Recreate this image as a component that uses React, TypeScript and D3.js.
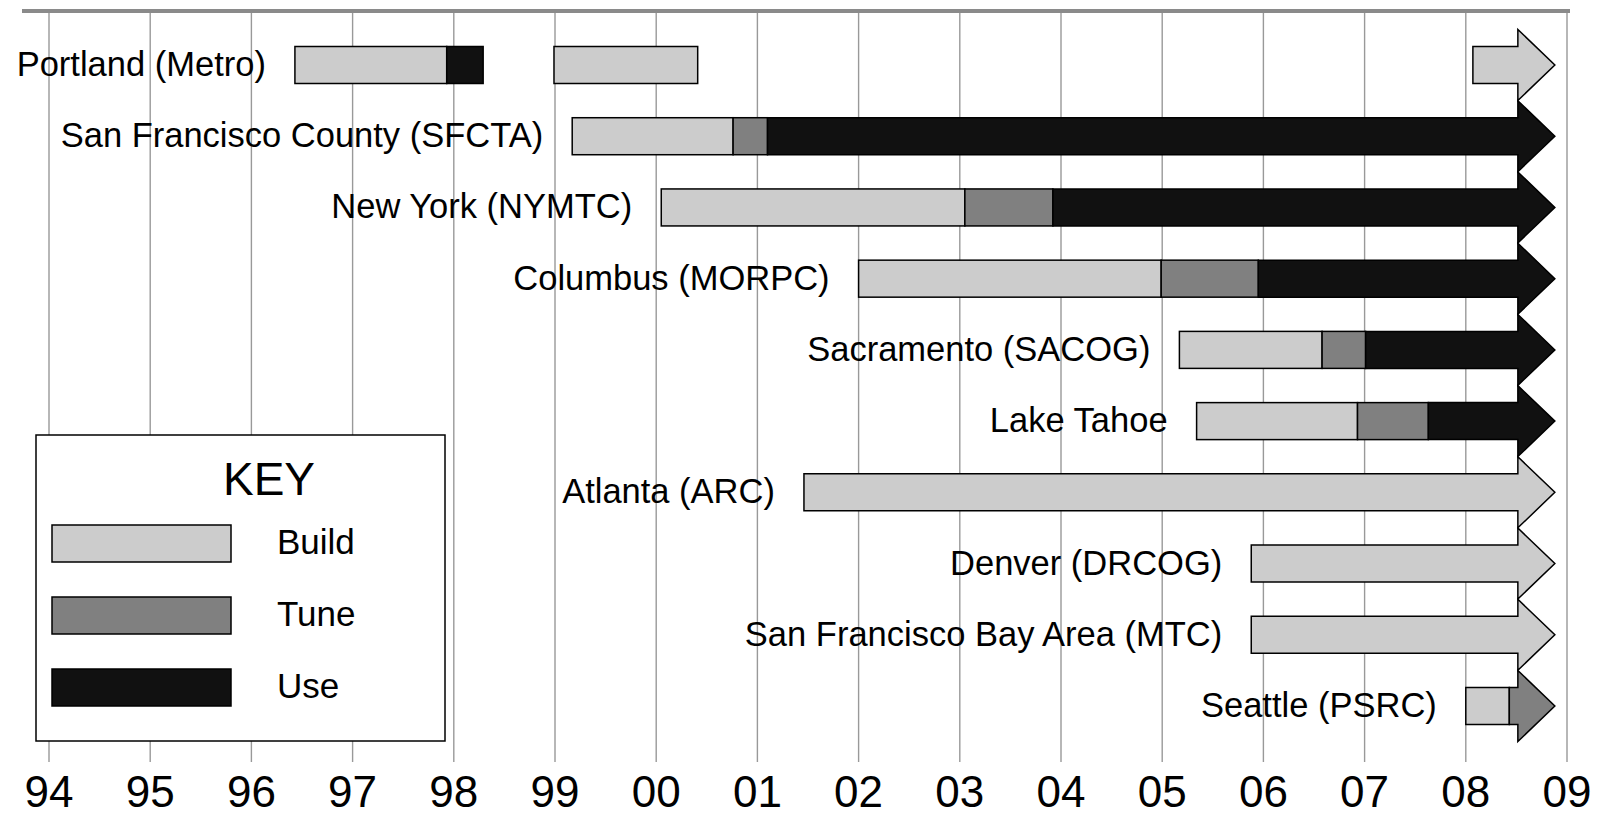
import * as d3 from "d3";

// rows, top to bottom
const agencies = [
  "Portland (Metro)",
  "San Francisco County (SFCTA)",
  "New York (NYMTC)",
  "Columbus (MORPC)",
  "Sacramento (SACOG)",
  "Lake Tahoe",
  "Atlanta (ARC)",
  "Denver (DRCOG)",
  "San Francisco Bay Area (MTC)",
  "Seattle (PSRC)",
];

const phases = ["Build", "Tune", "Use"];

// years as 94..109 (00 = 100); ONGOING marks a phase still running (drawn as arrow)
const ONGOING = 108.88;

// [agency index, phase, start, end]
const segments: [number, string, number, number][] = [
  [0, "Build", 96.43, 97.93],
  [0, "Use", 97.93, 98.29],
  [0, "Build", 98.99, 100.41],
  [0, "Build", 108.07, ONGOING],
  [1, "Build", 99.17, 100.76],
  [1, "Tune", 100.76, 101.1],
  [1, "Use", 101.1, ONGOING],
  [2, "Build", 100.05, 103.05],
  [2, "Tune", 103.05, 103.92],
  [2, "Use", 103.92, ONGOING],
  [3, "Build", 102.0, 104.99],
  [3, "Tune", 104.99, 105.95],
  [3, "Use", 105.95, ONGOING],
  [4, "Build", 105.17, 106.58],
  [4, "Tune", 106.58, 107.01],
  [4, "Use", 107.01, ONGOING],
  [5, "Build", 105.34, 106.93],
  [5, "Tune", 106.93, 107.63],
  [5, "Use", 107.63, ONGOING],
  [6, "Build", 101.46, ONGOING],
  [7, "Build", 105.88, ONGOING],
  [8, "Build", 105.88, ONGOING],
  [9, "Build", 108.0, 108.43],
  [9, "Tune", 108.43, ONGOING],
];

const years = d3.range(94, 110);
const yearLabels = years.map((y) => String(y % 100).padStart(2, "0"));

export default function App() {
  const width = 1598;
  const height = 817;
  const font = "'Liberation Sans', Arial, Helvetica, sans-serif";

  const x = d3.scaleLinear().domain([94, 109]).range([49, 1567]);
  const y = d3
    .scalePoint<number>()
    .domain(d3.range(agencies.length))
    .range([65, 706]);

  const color = d3
    .scaleOrdinal<string, string>()
    .domain(phases)
    .range(["#cccccc", "#808080", "#111111"]);

  const bodyH = 37;
  const headH = 71;
  const headLen = 37;
  const gridTop = 11;
  const gridBottom = 762;

  // first segment of each row, for the label position
  const rowStart = agencies.map((_, i) =>
    d3.min(segments.filter((s) => s[0] === i), (s) => s[2]) as number
  );

  const arrowPath = (x0: number, xt: number, c: number) => {
    const xb = xt - headLen;
    const h = bodyH / 2;
    const H = headH / 2;
    const p = d3.path();
    p.moveTo(x0, c - h);
    p.lineTo(xb, c - h);
    p.lineTo(xb, c - H);
    p.lineTo(xt, c);
    p.lineTo(xb, c + H);
    p.lineTo(xb, c + h);
    p.lineTo(x0, c + h);
    p.closePath();
    return p.toString();
  };

  return (
    <svg
      width={width}
      height={height}
      style={{ position: "absolute", left: 0, top: 0, background: "#fff" }}
      fontFamily={font}
    >
      {/* gridlines */}
      {years.map((yr) => (
        <line
          key={yr}
          x1={x(yr)}
          x2={x(yr)}
          y1={gridTop}
          y2={gridBottom}
          stroke="#999"
          strokeWidth={1.4}
        />
      ))}
      <line x1={22} x2={1570} y1={gridTop} y2={gridTop} stroke="#8a8a8a" strokeWidth={4} />

      {/* tick labels */}
      {years.map((yr, i) => (
        <text
          key={"t" + yr}
          x={x(yr)}
          y={807}
          textAnchor="middle"
          fontSize={44}
          fill="#000"
        >
          {yearLabels[i]}
        </text>
      ))}

      {/* row labels */}
      {agencies.map((name, i) => (
        <text
          key={name}
          x={x(rowStart[i]) - 29}
          y={(y(i) as number) + 11}
          textAnchor="end"
          fontSize={34.5}
          fill="#000"
        >
          {name}
        </text>
      ))}

      {/* bars */}
      {segments.map(([row, phase, s, e], k) => {
        const c = y(row) as number;
        if (e === ONGOING) {
          return (
            <path
              key={k}
              d={arrowPath(x(s), x(e), c)}
              fill={color(phase)}
              stroke="#000"
              strokeWidth={1.5}
              strokeLinejoin="miter"
            />
          );
        }
        return (
          <rect
            key={k}
            x={x(s)}
            y={c - bodyH / 2}
            width={x(e) - x(s)}
            height={bodyH}
            fill={color(phase)}
            stroke="#000"
            strokeWidth={1.5}
          />
        );
      })}

      {/* legend */}
      <g>
        <rect x={36} y={435} width={409} height={306} fill="#fff" stroke="#000" strokeWidth={1.5} />
        <text x={269} y={495} textAnchor="middle" fontSize={46} fill="#000">
          KEY
        </text>
        {phases.map((ph, i) => (
          <g key={ph}>
            <rect
              x={52}
              y={525 + i * 72}
              width={179}
              height={37}
              fill={color(ph)}
              stroke="#000"
              strokeWidth={1.5}
            />
            <text x={277} y={554 + i * 72} fontSize={35} fill="#000">
              {ph}
            </text>
          </g>
        ))}
      </g>
    </svg>
  );
}
